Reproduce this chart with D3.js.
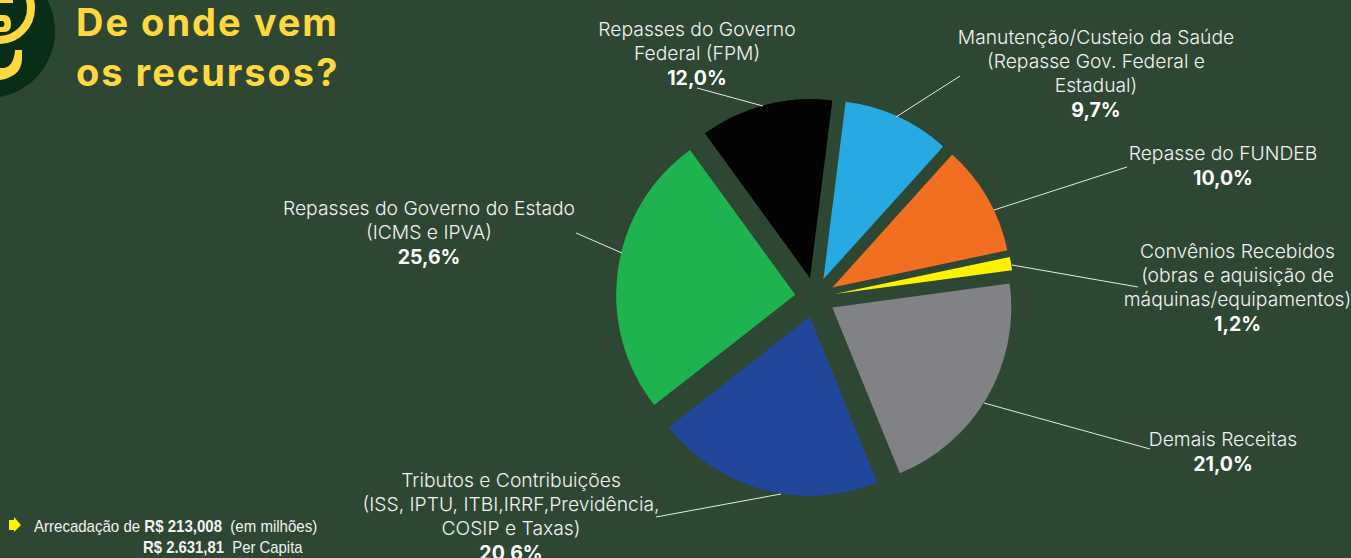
<!DOCTYPE html>
<html><head><meta charset="utf-8"><style>
html,body{margin:0;padding:0;background:#2d4733;overflow:hidden}
svg{display:block}
text{font-family:Inter,"Liberation Sans",sans-serif;fill:#f2f2f2}
</style><script src="https://cdn.jsdelivr.net/npm/d3@7"></script></head><body>
<svg id="c" width="1351" height="558"></svg>
<script>
const categories=["Repasses do Governo Federal (FPM)","Manutenção/Custeio da Saúde (Repasse Gov. Federal e Estadual)","Repasse do FUNDEB","Convênios Recebidos (obras e aquisição de máquinas/equipamentos)","Demais Receitas","Tributos e Contribuições (ISS, IPTU, ITBI,IRRF,Previdência, COSIP e Taxas)","Repasses do Governo do Estado (ICMS e IPVA)"];
const values=[12.0,9.7,10.0,1.2,21.0,20.6,25.6];
const valueLabels=["12,0%","9,7%","10,0%","1,2%","21,0%","20,6%","25,6%"];
const colors=["#030303","#27aae1","#f26f21","#fff200","#808285","#21479b","#1fb34f"];
const labelLines=[["Repasses do Governo","Federal (FPM)"],["Manutenção/Custeio da Saúde","(Repasse Gov. Federal e","Estadual)"],["Repasse do FUNDEB"],["Convênios Recebidos","(obras e aquisição de","máquinas/equipamentos)"],["Demais Receitas"],["Tributos e Contribuições","(ISS, IPTU, ITBI,IRRF,Previdência,","COSIP e Taxas)"],["Repasses do Governo do Estado","(ICMS e IPVA)"]];
const labelPos=[[697,36],[1096,44],[1223,160],[1237.5,258],[1223,446],[511,487],[429,215]];
const leaders=[[[697,88],[763,106]],[[896,117],[960,76]],[[994,210],[1127,167]],[[1012,265],[1138,287]],[[984,403],[1150,449]],[[781,494],[656,517]],[[576,233],[622,253]]];
const svg=d3.select("#c");
const cx=815,cy=297.5,R=179,gap=20;
const pie=d3.pie().sort(null).value(d=>d).startAngle(-36*Math.PI/180).endAngle((360-36)*Math.PI/180);
const arc=d3.arc().innerRadius(0).outerRadius(R);
svg.selectAll("path.s").data(pie(values)).join("path").attr("class","s")
 .attr("d",arc).attr("fill",(d,i)=>colors[i])
 .attr("transform",d=>{const m=(d.startAngle+d.endAngle)/2;return `translate(${cx+gap*Math.sin(m)},${cy-gap*Math.cos(m)})`});
const line=d3.line();
svg.selectAll("path.l").data(leaders).join("path").attr("class","l").attr("d",line).attr("fill","none").attr("stroke","#e8e8e8").attr("stroke-width",1);
labelLines.forEach((ls,i)=>{
 const [x,y]=labelPos[i];
 const t=svg.append("text").attr("text-anchor","middle");
 ls.forEach((s,j)=>t.append("tspan").attr("x",x).attr("y",y+j*24).attr("font-size",19.3).attr("font-weight",300).text(s));
 t.append("tspan").attr("x",x).attr("y",y+ls.length*24+1).attr("font-size",19.5).attr("font-weight",700).style("fill","#fff").text(valueLabels[i]);
});
// title
const title=["De onde vem","os recursos?"];
svg.selectAll("text.t").data(title).join("text").attr("class","t").attr("x",76).attr("y",(d,i)=>[36,86][i])
 .style("fill","#ffd840").style("font-weight",700).style("letter-spacing","2px").attr("font-size",38).text(d=>d);
// logo
const logo=svg.append("g");
logo.append("circle").attr("cx",-12).attr("cy",31).attr("r",67).attr("fill","#082e17");
logo.append("circle").attr("cx",-1).attr("cy",8).attr("r",32).attr("fill","none").attr("stroke","#ffd840").attr("stroke-width",8);
logo.append("path").attr("d","M0 0 H13 V3 H0 Z M0 15 H4 Q11 15 11 24 Q11 32 4 32 H0 V27 H3 Q6 24 3 21 H0 Z").attr("fill","#ffd840");
logo.append("path").attr("d","M15 50 H22 V58 Q22 72 10 77 Q5 80 0 80 V68 H4 Q14 66 15 50 Z").attr("fill","#ffd840");
// note
svg.append("path").attr("d","M9 520 H14 V517 L21 525 L14 532 V530 H9 Z").attr("fill","#fff200");
const noteFont="'Liberation Sans',sans-serif";
const a=svg.append("text").attr("transform","translate(34,532) scale(0.94,1)").attr("font-size",16).style("font-family",noteFont).attr("xml:space","preserve");
a.append("tspan").text("Arrecadação de ");a.append("tspan").attr("font-weight",700).text("R$ 213,008");a.append("tspan").text("  (em milhões)");
const b=svg.append("text").attr("transform","translate(143,553) scale(0.93,1)").attr("font-size",16).style("font-family",noteFont).attr("xml:space","preserve");
b.append("tspan").attr("font-weight",700).text("R$ 2.631,81");b.append("tspan").text("  Per Capita");
</script></body></html>
